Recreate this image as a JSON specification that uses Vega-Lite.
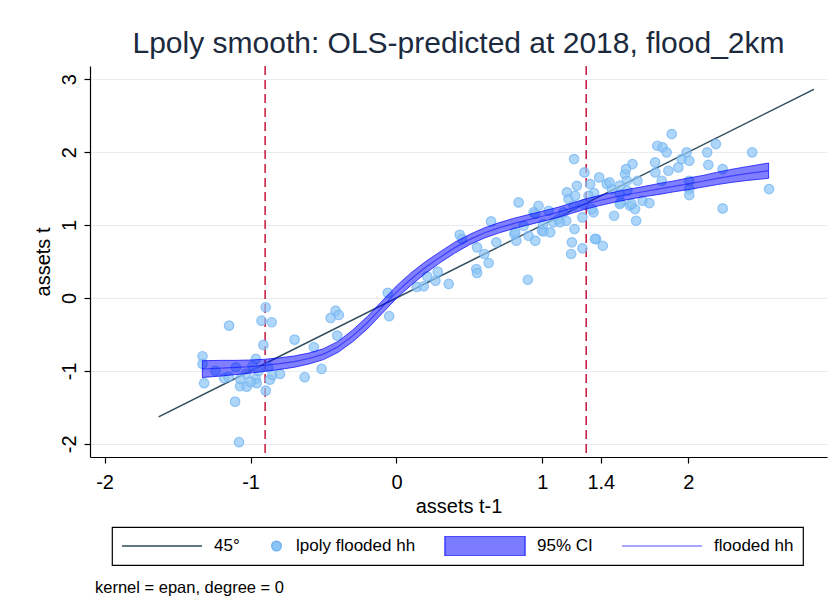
{
  "$schema": "https://vega.github.io/schema/vega-lite/v6.json",
  "background": "white",
  "padding": {"left": 33, "top": 29, "right": 5, "bottom": 5},
  "spacing": 14,
  "resolve": {"legend": {"fill": "independent", "stroke": "independent", "shape": "independent", "size": "independent"}},
  "datasets": {
    "scatter": [
      {"x": -0.896, "y": -0.127}, {"x": -0.925, "y": -0.311}, {"x": -0.855, "y": -0.333}, {"x": -1.147, "y": -0.379},
      {"x": -0.912, "y": -0.644}, {"x": -1.329, "y": -0.799}, {"x": -1.329, "y": -0.904}, {"x": -1.318, "y": -1.168},
      {"x": -1.181, "y": -1.1}, {"x": -1.072, "y": -1.21}, {"x": -1.026, "y": -1.215}, {"x": -0.964, "y": -1.11},
      {"x": -0.958, "y": -1.168}, {"x": -0.896, "y": -1.27}, {"x": -0.867, "y": -1.119}, {"x": -0.85, "y": -1.055},
      {"x": -0.798, "y": -1.041}, {"x": -1.106, "y": -1.421}, {"x": -1.079, "y": -1.977}, {"x": -0.698, "y": -0.571},
      {"x": -0.629, "y": -1.086}, {"x": -0.513, "y": -0.973}, {"x": -0.566, "y": -0.675}, {"x": -0.406, "y": -0.516},
      {"x": -0.451, "y": -0.274}, {"x": -0.417, "y": -0.174}, {"x": -0.395, "y": -0.233}, {"x": -0.964, "y": -0.836},
      {"x": -1.24, "y": -1.0}, {"x": -1.1, "y": -0.95}, {"x": -1.03, "y": -1.04}, {"x": -1.0, "y": -1.15},
      {"x": -1.07, "y": -1.11}, {"x": -0.945, "y": -1.0}, {"x": -0.986, "y": -0.93}, {"x": -1.15, "y": -1.08},
      {"x": -0.88, "y": -0.95}, {"x": -0.05, "y": -0.25}, {"x": -0.06, "y": 0.07}, {"x": 0.14, "y": 0.15},
      {"x": 0.187, "y": 0.16}, {"x": 0.267, "y": 0.237}, {"x": 0.283, "y": 0.36}, {"x": 0.21, "y": 0.297},
      {"x": 0.358, "y": 0.192}, {"x": 0.433, "y": 0.867}, {"x": 0.449, "y": 0.808}, {"x": 0.547, "y": 0.397},
      {"x": 0.552, "y": 0.342}, {"x": 0.632, "y": 0.479}, {"x": 0.602, "y": 0.603}, {"x": 0.552, "y": 0.694},
      {"x": 0.684, "y": 0.763}, {"x": 0.648, "y": 1.05}, {"x": 0.837, "y": 1.31}, {"x": 0.9, "y": 0.25},
      {"x": 0.821, "y": 0.785}, {"x": 0.807, "y": 0.877}, {"x": 0.905, "y": 0.853}, {"x": 0.951, "y": 0.785},
      {"x": 0.871, "y": 0.99}, {"x": 0.973, "y": 1.264}, {"x": 0.997, "y": 0.922}, {"x": 0.94, "y": 1.174},
      {"x": 0.951, "y": 1.151}, {"x": 1.042, "y": 1.196}, {"x": 1.008, "y": 0.912}, {"x": 1.053, "y": 0.9},
      {"x": 1.076, "y": 1.037}, {"x": 1.11, "y": 1.08}, {"x": 1.163, "y": 1.059}, {"x": 1.145, "y": 1.174},
      {"x": 1.005, "y": 1.01}, {"x": 1.12, "y": 1.04}, {"x": 0.814, "y": 0.9},
      {"x": 1.22, "y": 0.945}, {"x": 1.202, "y": 0.763}, {"x": 1.197, "y": 0.603}, {"x": 1.274, "y": 0.681},
      {"x": 1.274, "y": 1.105}, {"x": 1.217, "y": 1.904}, {"x": 1.288, "y": 1.721}, {"x": 1.168, "y": 1.448},
      {"x": 1.236, "y": 1.538}, {"x": 1.327, "y": 1.562}, {"x": 1.389, "y": 1.653}, {"x": 1.441, "y": 1.562},
      {"x": 1.476, "y": 1.493}, {"x": 1.354, "y": 1.438}, {"x": 1.35, "y": 1.174}, {"x": 1.368, "y": 0.808},
      {"x": 1.414, "y": 0.716}, {"x": 1.491, "y": 1.127}, {"x": 1.537, "y": 1.31}, {"x": 1.566, "y": 1.699},
      {"x": 1.617, "y": 1.836}, {"x": 1.578, "y": 1.607}, {"x": 1.651, "y": 1.607}, {"x": 1.6, "y": 1.264},
      {"x": 1.635, "y": 1.219}, {"x": 1.642, "y": 1.059}, {"x": 1.687, "y": 1.333}, {"x": 1.733, "y": 1.301},
      {"x": 1.772, "y": 1.859}, {"x": 1.787, "y": 2.087}, {"x": 1.824, "y": 2.064}, {"x": 1.851, "y": 1.996},
      {"x": 1.886, "y": 2.247}, {"x": 1.774, "y": 1.721}, {"x": 1.818, "y": 1.607}, {"x": 1.863, "y": 1.744},
      {"x": 1.931, "y": 1.79}, {"x": 1.954, "y": 1.904}, {"x": 1.988, "y": 1.996}, {"x": 2.006, "y": 1.881},
      {"x": 2.006, "y": 1.607}, {"x": 2.006, "y": 1.493}, {"x": 2.006, "y": 1.411}, {"x": 2.129, "y": 1.996},
      {"x": 2.137, "y": 1.826}, {"x": 2.189, "y": 2.11}, {"x": 2.235, "y": 1.767}, {"x": 2.235, "y": 1.228},
      {"x": 2.437, "y": 1.996}, {"x": 2.553, "y": 1.493}, {"x": 1.179, "y": 1.356}, {"x": 1.224, "y": 1.401},
      {"x": 1.281, "y": 1.288}, {"x": 1.316, "y": 1.401}, {"x": 1.339, "y": 1.219}, {"x": 1.213, "y": 1.264},
      {"x": 1.532, "y": 1.425}, {"x": 1.582, "y": 1.47}, {"x": 1.573, "y": 1.767}, {"x": 1.46, "y": 1.585},
      {"x": 1.53, "y": 1.54}, {"x": 1.61, "y": 1.29}, {"x": 1.53, "y": 1.29}, {"x": 1.36, "y": 0.81}
    ],
    "curve": [
      {"x": -1.33, "fit": -0.975, "lo": -1.09, "hi": -0.86},
      {"x": -1.2, "fit": -0.962, "lo": -1.07, "hi": -0.855},
      {"x": -1.1, "fit": -0.952, "lo": -1.05, "hi": -0.855},
      {"x": -1.0, "fit": -0.94, "lo": -1.03, "hi": -0.85},
      {"x": -0.9, "fit": -0.922, "lo": -1.005, "hi": -0.84},
      {"x": -0.8, "fit": -0.9, "lo": -0.98, "hi": -0.82},
      {"x": -0.7, "fit": -0.872, "lo": -0.95, "hi": -0.795},
      {"x": -0.6, "fit": -0.83, "lo": -0.905, "hi": -0.755},
      {"x": -0.5, "fit": -0.77, "lo": -0.845, "hi": -0.695},
      {"x": -0.4, "fit": -0.67, "lo": -0.745, "hi": -0.595},
      {"x": -0.3, "fit": -0.52, "lo": -0.6, "hi": -0.44},
      {"x": -0.2, "fit": -0.34, "lo": -0.425, "hi": -0.255},
      {"x": -0.1, "fit": -0.13, "lo": -0.215, "hi": -0.045},
      {"x": 0.0, "fit": 0.08, "lo": -0.005, "hi": 0.165},
      {"x": 0.1, "fit": 0.26, "lo": 0.175, "hi": 0.345},
      {"x": 0.2, "fit": 0.42, "lo": 0.34, "hi": 0.5},
      {"x": 0.3, "fit": 0.56, "lo": 0.485, "hi": 0.635},
      {"x": 0.4, "fit": 0.69, "lo": 0.615, "hi": 0.765},
      {"x": 0.5, "fit": 0.8, "lo": 0.73, "hi": 0.87},
      {"x": 0.6, "fit": 0.89, "lo": 0.82, "hi": 0.96},
      {"x": 0.7, "fit": 0.96, "lo": 0.89, "hi": 1.03},
      {"x": 0.8, "fit": 1.02, "lo": 0.95, "hi": 1.09},
      {"x": 0.9, "fit": 1.07, "lo": 1.0, "hi": 1.14},
      {"x": 1.0, "fit": 1.12, "lo": 1.05, "hi": 1.19},
      {"x": 1.1, "fit": 1.17, "lo": 1.1, "hi": 1.24},
      {"x": 1.2, "fit": 1.23, "lo": 1.16, "hi": 1.3},
      {"x": 1.3, "fit": 1.29, "lo": 1.22, "hi": 1.36},
      {"x": 1.4, "fit": 1.34, "lo": 1.27, "hi": 1.41},
      {"x": 1.5, "fit": 1.385, "lo": 1.315, "hi": 1.455},
      {"x": 1.6, "fit": 1.425, "lo": 1.355, "hi": 1.495},
      {"x": 1.7, "fit": 1.46, "lo": 1.39, "hi": 1.53},
      {"x": 1.8, "fit": 1.495, "lo": 1.42, "hi": 1.57},
      {"x": 1.9, "fit": 1.53, "lo": 1.455, "hi": 1.605},
      {"x": 2.0, "fit": 1.565, "lo": 1.485, "hi": 1.645},
      {"x": 2.1, "fit": 1.6, "lo": 1.52, "hi": 1.68},
      {"x": 2.2, "fit": 1.64, "lo": 1.555, "hi": 1.725},
      {"x": 2.3, "fit": 1.675, "lo": 1.585, "hi": 1.765},
      {"x": 2.4, "fit": 1.705, "lo": 1.61, "hi": 1.8},
      {"x": 2.55, "fit": 1.745, "lo": 1.64, "hi": 1.85}
    ],
    "diag": [{"x": -1.63, "y": -1.63}, {"x": 2.86, "y": 2.86}],
    "vlines": [{"x": -0.9}, {"x": 1.3}]
  },
  "vconcat": [
    {
      "width": 737,
      "height": 391,
      "title": {
        "text": "Lpoly smooth: OLS-predicted at 2018, flood_2km",
        "fontSize": 30,
        "fontWeight": "normal",
        "color": "#1c2a3e",
        "anchor": "middle",
        "frame": "group",
        "offset": 6
      },
      "encoding": {
        "x": {
          "field": "x", "type": "quantitative", "title": "assets t-1",
          "scale": {"domain": [-2.1, 2.95], "nice": false, "zero": false},
          "axis": {"values": [-2, -1, 0, 1, 1.4, 2], "format": ".2~g", "grid": false, "labelPadding": 9, "titlePadding": 4}
        }
      },
      "layer": [
        {
          "data": {"name": "vlines"},
          "mark": {"type": "rule", "color": "#c8143c", "strokeWidth": 1.5, "strokeDash": [9, 5]}
        },
        {
          "data": {"name": "diag"},
          "mark": {"type": "line", "color": "#2d4b5b", "strokeWidth": 1.5},
          "encoding": {
            "y": {
              "field": "y", "type": "quantitative", "title": "assets t",
              "scale": {"domain": [-2.18, 3.18], "nice": false, "zero": false},
              "axis": {"values": [-2, -1, 0, 1, 2, 3], "format": ".2~g", "grid": true, "gridColor": "#e6ecef", "gridWidth": 1, "labelAngle": -90, "labelAlign": "center", "labelBaseline": "alphabetic", "labelPadding": 9, "titlePadding": 6}
            }
          }
        },
        {
          "data": {"name": "scatter"},
          "transform": [{"calculate": "'lpoly flooded hh'", "as": "series"}],
          "mark": {"type": "point", "filled": true, "fillOpacity": 0.7, "strokeOpacity": 0.7, "strokeWidth": 1.2},
          "encoding": {
            "y": {"field": "y", "type": "quantitative"},
            "fill": {
              "field": "series", "type": "nominal",
              "scale": {"domain": ["45°", "lpoly flooded hh", "95% CI", "flooded hh"], "range": ["transparent", "#8cc4f5", "#7b7bff", "transparent"]},
              "legend": {"title": null, "orient": "none", "legendX": 22, "legendY": 461}
            },
            "stroke": {
              "field": "series", "type": "nominal",
              "scale": {"domain": ["45°", "lpoly flooded hh", "95% CI", "flooded hh"], "range": ["#2d4b5b", "#6fb2f2", "#3b3bff", "#8888ff"]},
              "legend": {"title": null, "orient": "none", "legendX": 22, "legendY": 461}
            },
            "shape": {
              "field": "series", "type": "nominal",
              "scale": {"domain": ["45°", "lpoly flooded hh", "95% CI", "flooded hh"], "range": ["M-1,0L1,0", "circle", "M-1,-0.25L1,-0.25L1,0.25L-1,0.25Z", "M-1,0L1,0"]},
              "legend": {"title": null, "orient": "none", "legendX": 22, "legendY": 461}
            },
            "size": {
              "field": "series", "type": "ordinal",
              "scale": {"type": "ordinal", "domain": ["45°", "lpoly flooded hh", "95% CI", "flooded hh"], "range": [6400, 90, 6400, 6400]},
              "legend": {"title": null, "orient": "none", "legendX": 22, "legendY": 461}
            }
          }
        },
        {
          "data": {"name": "curve"},
          "mark": {"type": "area", "fill": "#0000ff", "fillOpacity": 0.5, "stroke": "#0000ff", "strokeOpacity": 0.7, "strokeWidth": 1},
          "encoding": {
            "y": {"field": "lo", "type": "quantitative"},
            "y2": {"field": "hi"}
          }
        },
        {
          "data": {"name": "curve"},
          "mark": {"type": "line", "color": "#0000ff", "strokeOpacity": 0.5, "strokeWidth": 1.2},
          "encoding": {
            "y": {"field": "fit", "type": "quantitative"}
          }
        }
      ]
    },
    {
      "width": 737,
      "height": 1,
      "data": {"values": [{"a": 1}]},
      "mark": {"type": "point", "opacity": 0},
      "title": {
        "text": "kernel = epan, degree = 0",
        "fontSize": 16.5,
        "fontWeight": "normal",
        "color": "black",
        "anchor": "start",
        "frame": "group",
        "dx": 5,
        "offset": 0
      }
    }
  ],
  "config": {
    "font": "Liberation Sans",
    "view": {"stroke": null},
    "axis": {
      "labelFontSize": 20,
      "labelColor": "black",
      "titleFontSize": 20,
      "titleFontWeight": "normal",
      "titleColor": "black",
      "domainColor": "black",
      "domainWidth": 1.2,
      "tickColor": "black",
      "tickWidth": 1.2,
      "tickSize": 6,
      "labelExpr": "replace(datum.label, '\u2212', '-')"
    },
    "legend": {
      "direction": "horizontal",
      "strokeColor": "black",
      "strokeWidth": 1.2,
      "fillColor": "white",
      "padding": 9,
      "labelFontSize": 17,
      "labelColor": "black",
      "labelOffset": 11,
      "columnPadding": 28,
      "labelLimit": 300,
      "clipHeight": 20,
      "symbolStrokeWidth": 1.5,
      "symbolOpacity": 1
    }
  }
}
